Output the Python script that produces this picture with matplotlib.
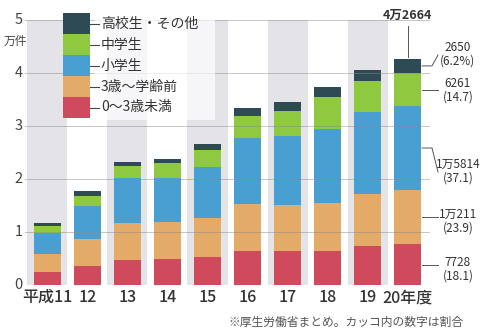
import numpy as np
import matplotlib.pyplot as plt
from matplotlib.patches import Rectangle
from matplotlib.lines import Line2D

plt.rcParams['font.family'] = ['Noto Sans CJK JP', 'DejaVu Sans']

# data (件)
years = ['平成11', '12', '13', '14', '15', '16', '17', '18', '19', '20年度']
age0_3 = [2393, 3522, 4748, 4940, 5346, 6479, 6361, 6333, 7422, 7728]
age3_school = [3370, 5147, 6864, 6928, 7238, 8776, 8781, 9071, 9727, 10211]
elementary = [4021, 6235, 8505, 8380, 9708, 12483, 13024, 14082, 15499, 15814]
junior_high = [1266, 1957, 2333, 2696, 3116, 4187, 4620, 5950, 5889, 6261]
high_other = [581, 864, 824, 794, 1161, 1483, 1686, 1887, 2102, 2650]

series_labels = ['0～3歳未満', '3歳～学齢前', '小学生', '中学生', '高校生・その他']
colors = ['#cf4a5c', '#e3aa68', '#4a9fd2', '#8ec940', '#2d4a55']
right_labels = ['7728\n(18.1)', '1万211\n(23.9)', '1万5814\n(37.1)', '6261\n(14.7)', '2650\n(6.2%)']
total_label = '4万2664'

W, H = 485, 331
fig = plt.figure(figsize=(W / 100, H / 100), dpi=100)
fig.patch.set_facecolor('white')

# axes placed in pixel terms
def px(x0, y0, x1, y1):
    return [x0 / W, 1 - y1 / H, (x1 - x0) / W, (y1 - y0) / H]

ax = fig.add_axes(px(25, 20, 430, 285))
ax.set_facecolor('white')

x = np.arange(len(years))
data = [np.array(s) / 10000 for s in [age0_3, age3_school, elementary, junior_high, high_other]]

# alternating grey bands
for i in range(0, len(years), 2):
    ax.axvspan(i - 0.5, i + 0.5, color='#e4e4e8', zorder=0, lw=0)

bottom = np.zeros(len(years))
for vals, c in zip(data, colors):
    ax.bar(x, vals, bottom=bottom, width=0.68, color=c, zorder=2, lw=0)
    bottom += vals

for yv in range(0, 6):
    ax.axhline(yv, color='#8a8a8a', lw=0.7, alpha=0.5, zorder=3)

ax.set_xlim(-0.56, 9.56)
ax.set_ylim(0, 5)
for s in ax.spines.values():
    s.set_visible(False)
ax.tick_params(length=0)
ax.set_yticks([])
ax.set_xticks(x)
ax.set_xticklabels(years, fontsize=11.5, color='#333333', fontweight='medium')
ax.tick_params(axis='x', pad=3)

# y labels
for yv in range(0, 6):
    fig.text(23 / W, 1 - (285 - yv * 53) / H, str(yv), ha='right', va='center',
             fontsize=10.5, color='#444444')
fig.text(4 / W, 1 - 41 / H, '万件', ha='left', va='center', fontsize=8.5, color='#444444')

# right side annotations for last bar (label rows in pixel y, top line centre)
label_rows = [263, 215, 165, 84, 48]
last = len(years) - 1
tx = fig.transFigure
cum = 0
for vals, lab, row in zip(data, right_labels, label_rows):
    mid = cum + vals[last] / 2
    cum += vals[last]
    mid_px = 285 - mid * 53
    end_px = row + 7 if abs(row + 7 - mid_px) > 10 else mid_px
    fig.lines.append(Line2D([422 / W, 432 / W, 438 / W],
                            [1 - mid_px / H, 1 - mid_px / H, 1 - end_px / H],
                            transform=tx, color='#555555', lw=0.7, zorder=4))
    fig.text(458 / W, 1 - (row - 7) / H, lab, ha='center', va='top', fontsize=8.5,
             color='#333333', linespacing=1.1)

# total label
ax.add_line(Line2D([last, last], [cum + 0.03, 4.88], color='#555555', lw=0.7,
                   clip_on=False, zorder=4))
ax.text(last, 5.09, total_label, ha='center', va='center', fontsize=9,
        fontweight='bold', color='#333333', clip_on=False)

# legend: stacked colour blocks with dashes
fig.patches.append(Rectangle((95 / W, 1 - 120 / H), 120 / W, 110 / H, transform=tx,
                             facecolor='white', edgecolor='none', alpha=0.7, zorder=5))
blk_h = 21
for k, (lab, c) in enumerate(zip(series_labels[::-1], colors[::-1])):
    top = 13 + k * blk_h
    fig.patches.append(Rectangle((63 / W, 1 - (top + blk_h) / H), 27 / W, blk_h / H,
                                 transform=tx, facecolor=c, edgecolor='none', zorder=6))
    yc = 1 - (top + blk_h / 2) / H
    fig.lines.append(Line2D([90 / W, 99 / W], [yc, yc], transform=tx,
                            color='#444444', lw=0.8, zorder=6))
    fig.text(101 / W, yc, lab, ha='left', va='center', fontsize=10, color='#333333', zorder=7)

# source note
fig.text(228 / W, 1 - 322 / H, '※厚生労働省まとめ。カッコ内の数字は割合', ha='left', va='center',
         fontsize=8.5, color='#555555')

fig.savefig('out.png', dpi=100)
